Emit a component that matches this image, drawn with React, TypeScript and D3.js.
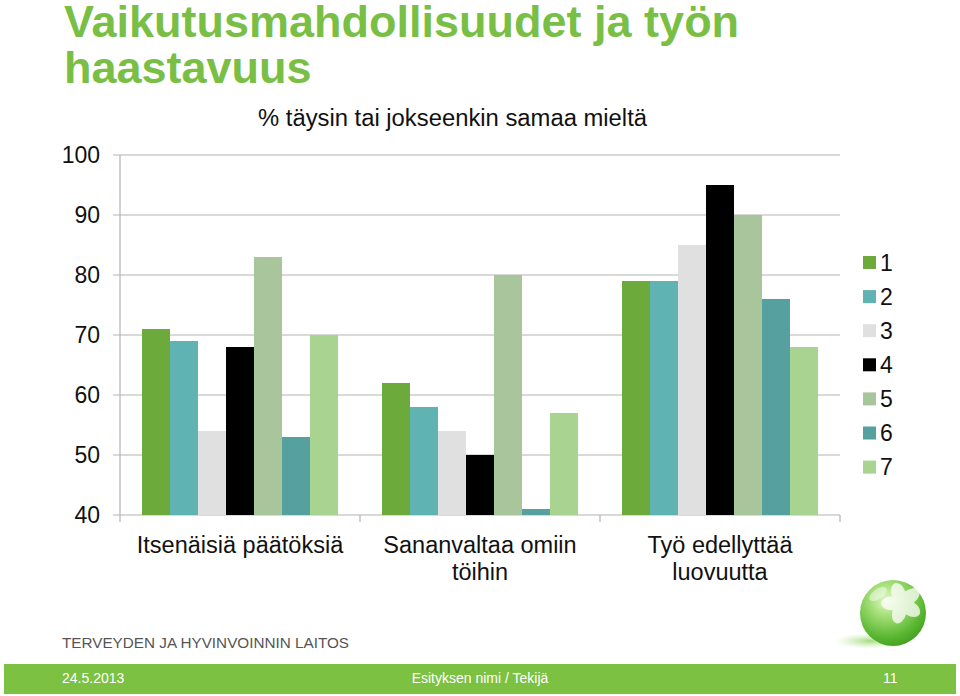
import React from "react";
import * as d3 from "d3";

const categories: string[][] = [
  ["Itsenäisiä päätöksiä"],
  ["Sananvaltaa omiin", "töihin"],
  ["Työ edellyttää", "luovuutta"],
];
const seriesNames = ["1", "2", "3", "4", "5", "6", "7"];
const seriesColors = ["#6cab3b", "#5fb3b3", "#e0e0e0", "#000000", "#a9c59b", "#56a19f", "#a8d391"];
const s1 = [71, 62, 79];
const s2 = [69, 58, 79];
const s3 = [54, 54, 85];
const s4 = [68, 50, 95];
const s5 = [83, 80, 90];
const s6 = [53, 41, 76];
const s7 = [70, 57, 68];
const seriesValues = [s1, s2, s3, s4, s5, s6, s7];
const yTicks = [40, 50, 60, 70, 80, 90, 100];

const W = 960;
const H = 696;
const FONT = "'Liberation Sans', Arial, sans-serif";

export default function App() {
  const y = d3.scaleLinear().domain([40, 100]).range([515, 155]);
  const catKeys = categories.map((c) => c.join(" "));
  const x0 = d3.scaleBand<string>().domain(catKeys).range([120, 840]).paddingInner(0).paddingOuter(0);
  const x1 = d3
    .scaleBand<string>()
    .domain(seriesNames)
    .range([0, x0.bandwidth()])
    .paddingInner(0)
    .paddingOuter(22 / 28);
  const grid = "#b4b4b4";
  const titleGreen = "#7abf45";
  const footerGreen = "#7cc142";

  return (
    <svg width={W} height={H} style={{ position: "absolute", left: 0, top: 0, display: "block" }} fontFamily={FONT}>
      <defs>
        <radialGradient id="sph" cx="0.4" cy="0.3" r="0.8">
          <stop offset="0" stopColor="#e4f8cc" />
          <stop offset="0.3" stopColor="#a6e07a" />
          <stop offset="0.7" stopColor="#5cb832" />
          <stop offset="1" stopColor="#3a9518" />
        </radialGradient>
        <radialGradient id="shadow" cx="0.5" cy="0.5" r="0.5">
          <stop offset="0" stopColor="#8fd060" stopOpacity="0.8" />
          <stop offset="1" stopColor="#c8eca8" stopOpacity="0" />
        </radialGradient>
      </defs>
      <rect x={0} y={0} width={W} height={H} fill="#ffffff" />

      {/* Title */}
      <text x={64} y={37} fontSize={45} fontWeight="bold" fill={titleGreen}>
        Vaikutusmahdollisuudet ja työn
      </text>
      <text x={64} y={83} fontSize={45} fontWeight="bold" fill={titleGreen}>
        haastavuus
      </text>
      <text x={258} y={126} fontSize={23} fill="#111" textLength={389} lengthAdjust="spacingAndGlyphs">
        % täysin tai jokseenkin samaa mieltä
      </text>

      {/* Gridlines and y ticks */}
      {yTicks.map((t) => (
        <g key={t}>
          <line x1={113} x2={840} y1={y(t)} y2={y(t)} stroke={grid} strokeWidth={1.2} />
          <text x={100} y={y(t)} dy="0.36em" fontSize={23} textAnchor="end" fill="#111">
            {t}
          </text>
        </g>
      ))}
      <line x1={120} x2={120} y1={y(100)} y2={522} stroke={grid} strokeWidth={1.2} />
      {catKeys.map((k) => (
        <line key={k} x1={(x0(k) as number) + x0.bandwidth()} x2={(x0(k) as number) + x0.bandwidth()} y1={515} y2={522} stroke={grid} strokeWidth={1.2} />
      ))}

      {/* Bars */}
      {catKeys.map((k, ci) => (
        <g key={k} transform={`translate(${x0(k)},0)`}>
          {seriesNames.map((s, si) => {
            const v = seriesValues[si][ci];
            return (
              <rect
                key={s}
                x={x1(s)}
                y={y(v)}
                width={x1.bandwidth()}
                height={y(40) - y(v)}
                fill={seriesColors[si]}
              />
            );
          })}
        </g>
      ))}

      {/* Category labels */}
      {categories.map((lines, ci) => {
        const cx = (x0(catKeys[ci]) as number) + x0.bandwidth() / 2;
        return (
          <text key={ci} x={cx} y={553} fontSize={23.5} textAnchor="middle" fill="#111">
            {lines.map((l, li) => (
              <tspan key={li} x={cx} dy={li === 0 ? 0 : 27}>
                {l}
              </tspan>
            ))}
          </text>
        );
      })}

      {/* Legend */}
      {seriesNames.map((s, i) => {
        const cy = 262.5 + i * 34.1;
        return (
          <g key={s}>
            <rect x={863} y={cy - 6.5} width={13} height={13} fill={seriesColors[i]} />
            <text x={880} y={cy} dy="0.36em" fontSize={23} fill="#111">
              {s}
            </text>
          </g>
        );
      })}

      {/* Organisation name */}
      <text x={62} y={648} fontSize={15} fill="#555" textLength={287} lengthAdjust="spacingAndGlyphs">
        TERVEYDEN JA HYVINVOINNIN LAITOS
      </text>

      {/* Logo */}
      <ellipse cx={870} cy={641} rx={36} ry={8} fill="url(#shadow)" />
      <circle cx={893} cy={613} r={33} fill="url(#sph)" />
      <g transform="translate(902,603)" fill="#ffffff" opacity={0.75}>
        {[-20, 52, 124, 196, 268].map((a) => (
          <ellipse key={a} cx={0} cy={-10} rx={7} ry={11} transform={`rotate(${a})`} />
        ))}
      </g>
      <ellipse cx={878} cy={594} rx={10} ry={5} fill="#ffffff" opacity={0.45} transform="rotate(-35,878,594)" />

      {/* Footer band */}
      <rect x={4} y={664} width={952} height={30} fill={footerGreen} />
      <text x={62} y={683} fontSize={14} fill="#ffffff">
        24.5.2013
      </text>
      <text x={480} y={683} fontSize={14} fill="#ffffff" textAnchor="middle">
        Esityksen nimi / Tekijä
      </text>
      <text x={883} y={683} fontSize={14} fill="#ffffff">
        11
      </text>
    </svg>
  );
}
